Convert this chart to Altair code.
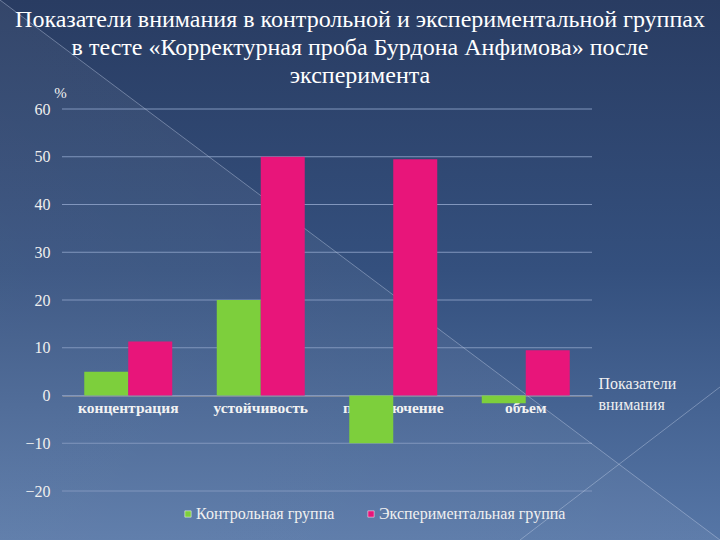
import altair as alt
import pandas as pd

categories = ["концентрация", "устойчивость", "переключение", "объем"]
groups = ["Контрольная группа", "Экспериментальная группа"]
control = [5, 20, -10, -1.6]
experimental = [11.3, 50, 49.5, 9.5]
y_ticks = [-20, -10, 0, 10, 20, 30, 40, 50, 60]

rows = []
for c, a, b in zip(categories, control, experimental):
    rows.append({"cat": c, "group": groups[0], "value": a})
    rows.append({"cat": c, "group": groups[1], "value": b})
df = pd.DataFrame(rows)
grid_df = pd.DataFrame({"v": y_ticks})

W, H = 720, 540
X0, X1 = 62, 592      # plot area left/right (pixels)
Y0, Y1 = 491, 109     # plot area bottom/top (pixels)
SERIF = "Liberation Serif"

y_scale = alt.Scale(domain=[-20, 60], nice=False, zero=False, range=[Y0, Y1])

bg_data = alt.Data(values=[{"k": 1}])

tri = alt.Chart(bg_data).mark_rect(
    color=alt.LinearGradient(
        gradient="linear", x1=1, y1=0, x2=0, y2=1,
        stops=[alt.GradientStop(offset=0, color="rgba(255,255,255,0)"),
               alt.GradientStop(offset=0.5, color="rgba(255,255,255,0)"),
               alt.GradientStop(offset=0.5, color="rgba(255,255,255,0.05)"),
               alt.GradientStop(offset=1, color="rgba(255,255,255,0.07)")]
    )
).encode(x=alt.value(0), x2=alt.value(W), y=alt.value(0), y2=alt.value(H))

diag1 = alt.Chart(bg_data).mark_rule(color="#c8d4ea", strokeWidth=1, opacity=0.4).encode(
    x=alt.value(0), y=alt.value(0), x2=alt.value(W), y2=alt.value(H))
diag2 = alt.Chart(bg_data).mark_rule(color="#c8d4ea", strokeWidth=1, opacity=0.4).encode(
    x=alt.value(520), y=alt.value(H), x2=alt.value(W), y2=alt.value(387))

grid = alt.Chart(grid_df).mark_rule(color="#8196bd", strokeWidth=1).encode(
    y=alt.Y("v:Q", scale=y_scale), x=alt.value(X0), x2=alt.value(X1))

bars = alt.Chart(df).mark_bar(stroke=None).encode(
    x=alt.X("cat:N", sort=categories,
            scale=alt.Scale(paddingInner=0.336, paddingOuter=0.168, range=[X0, X1]),
            axis=alt.Axis(title=["Показатели", "внимания"], orient="bottom",
                          offset=-(H - 395.5), labelAngle=0,
                          labelFont=SERIF, labelFontWeight="bold",
                          labelFontSize=15.5, labelColor="#f2f2f2", labelPadding=5,
                          ticks=False, domainColor="#8a8f9a", domainWidth=1.5,
                          titleFont=SERIF, titleFontWeight="normal",
                          titleFontSize=16, titleColor="#f0f0f0",
                          titleAlign="left", titleAnchor="start", titleAngle=0,
                          titleX=X1 + 6, titleY=-7, titleBaseline="alphabetic",
                          titleLineHeight=21)),
    xOffset=alt.XOffset("group:N", sort=groups),
    y=alt.Y("value:Q", scale=y_scale,
            axis=alt.Axis(values=y_ticks, title="%", titleAngle=0, orient="left",
                          offset=-X0,
                          titleX=-2, titleY=97, titleAlign="center",
                          titleBaseline="alphabetic",
                          titleFont=SERIF, titleFontWeight="normal",
                          titleFontSize=15, titleColor="#f0f0f0",
                          labelFont=SERIF, labelFontSize=16,
                          labelColor="#eeeeee", labelPadding=12,
                          ticks=False, domain=False, grid=False)),
    color=alt.Color("group:N", sort=groups,
                    scale=alt.Scale(domain=groups, range=["#7dcf3c", "#e8157a"]),
                    legend=alt.Legend(title=None, orient="none", direction="horizontal",
                                      legendX=180, legendY=506,
                                      symbolType="square", symbolSize=40,
                                      symbolStrokeColor="#ffffff", symbolStrokeWidth=0.5,
                                      labelFont=SERIF, labelFontSize=16, labelLimit=400,
                                      labelColor="#f0f0f0", labelOffset=0,
                                      columnPadding=28)),
)

bg_expr = ("{gradient: 'linear', x1: 0, y1: 0, x2: 0, y2: 1, stops: ["
           "{offset: 0, color: '#293c62'}, {offset: 0.5, color: '#34507e'}, "
           "{offset: 1, color: '#5676a6'}]}")

chart = alt.layer(tri, grid, diag1, diag2, bars).properties(
    width=W, height=H,
    autosize=alt.AutoSizeParams(type="none"),
    padding=0,
    background="#2f4670",
    title=alt.TitleParams(
        text=["Показатели внимания в контрольной и экспериментальной группах",
              "в тесте «Корректурная проба Бурдона Анфимова» после",
              "эксперимента"],
        font=SERIF, fontSize=24, fontWeight="normal", color="#ffffff",
        lineHeight=28, anchor="middle", offset=-88),
).configure_view(
    stroke=None,
    fill=alt.ExprRef(bg_expr),
)

chart.save("out.html", embed_options={"renderer": "svg", "actions": False})
